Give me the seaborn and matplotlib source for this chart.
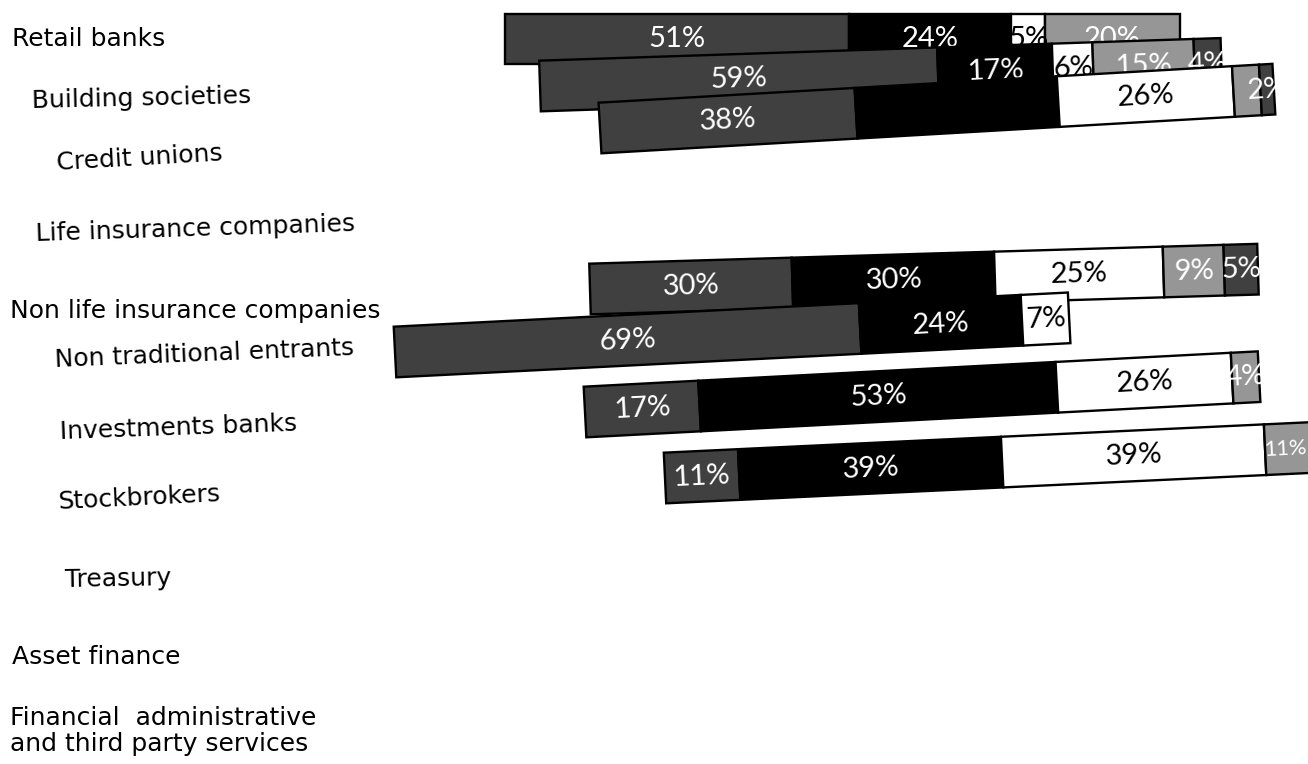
import numpy as np
import pandas as pd
import matplotlib
matplotlib.use("Agg")
import matplotlib.pyplot as plt
from matplotlib.transforms import Affine2D
import seaborn as sns

# ---------------- data ----------------
categories = [
    "Retail banks", "Building societies", "Credit unions",
    "Life insurance companies", "Non life insurance companies",
    "Non traditional entrants", "Investments banks", "Stockbrokers",
    "Treasury", "Asset finance",
    "Financial  administrative\nand third party services",
]
bar_categories = [
    "Retail banks", "Building societies", "Credit unions",
    "Non life insurance companies", "Non traditional entrants",
    "Investments banks", "Stockbrokers",
]
seg1 = [51, 59, 38, 30, 69, 17, 11]
seg2 = [24, 17, 30, 30, 24, 53, 39]
seg3 = [5, 6, 26, 25, 7, 26, 39]
seg4 = [20, 15, 4, 9, 0, 4, 11]
seg5 = [0, 4, 2, 5, 0, 0, 0]
segments = [seg1, seg2, seg3, seg4, seg5]
# segment labels that are not printed in the reference (row, segment)
unlabelled = [(2, 1), (2, 3)]

# ---------------- style / layout ----------------
seg_colors = ["#404040", "#000000", "#ffffff", "#969696", "#404040"]
label_colors = ["white", "white", "black", "white", "white"]
W, H = 1308, 764
PX = 6.75            # pixels per percentage point
ROW0, ROWSTEP = 40, 68.5   # pixel centre of first category row, row step
BAR_H = 0.74
LABEL_FS = 21
bar_start_px = [505, 540, 600, 590, 395, 585, 665]
bar_row_px = [39, 86, 128, 289, 352, 412, 478]
bar_tilt = [0.0, 1.9, 3.3, 1.7, 2.9, 3.0, 2.7]
label_layout = [  # (x px, y px, rotation)
    (12, 39, 0), (32, 101, 1.3), (57, 163, 3.3), (36, 234, 1.8),
    (10, 311, 0), (55, 360, 2.3), (60, 432, 2.0), (58, 502, 2.8),
    (65, 580, 1.0), (12, 657, 0), (10, 731, 0),
]

sns.set_theme(style="white")
plt.rcParams["font.family"] = ["DejaVu Sans"]

fig = plt.figure(figsize=(W / 100, H / 100), dpi=100)
ax = fig.add_axes([0, 0, 1, 1])

row_pos = [(p - ROW0) / ROWSTEP for p in bar_row_px]
starts = [s / PX for s in bar_start_px]

records = []  # (patch, row, seg, left, value)
cum = np.zeros(len(bar_categories))
for k, seg in enumerate(segments):
    vals = np.array(seg, dtype=float)
    df = pd.DataFrame({
        "category": bar_categories,
        "value": vals,
        "left": np.array(starts) + cum,
        "row": np.arange(len(bar_categories)),
    })
    df = df[df["value"] > 0]
    n0 = len(ax.patches)
    sns.barplot(data=df, x="value", y="category", order=categories,
                orient="h", color=seg_colors[k], saturation=1,
                width=BAR_H, errorbar=None, edgecolor="black",
                linewidth=1.7, left=df["left"].to_numpy(), ax=ax)
    new = ax.patches[n0:]
    for p, (_, r) in zip(new, df.iterrows()):
        records.append((p, int(r["row"]), k, r["left"], r["value"]))
    cum += vals

xmax = W / PX
ax.set_xlim(0, xmax)
ax.set_ylim((H - ROW0) / ROWSTEP, -ROW0 / ROWSTEP)
ax.set_axis_off()

rots = []
for r in range(len(bar_categories)):
    cx, cy = ax.transData.transform((starts[r], row_pos[r]))
    rots.append(ax.transData + Affine2D().rotate_deg_around(cx, cy, bar_tilt[r]))

for p, r, k, left, val in records:
    p.set_y(row_pos[r] - BAR_H / 2)
    p.set_transform(rots[r])
    p.set_zorder(2 + 2 * r)
    if (r, k) in unlabelled:
        continue
    fs = LABEL_FS
    if left + val > xmax:      # segment runs off the page: fit label in the visible part
        vis_px = (xmax - left) * PX - 5
        fs = min(LABEL_FS, vis_px / 1.7 * 72 / 100)
        tx = (left + xmax) / 2 - 0.2
    else:
        tx = left + val / 2
    ax.text(tx, row_pos[r], f"{int(val)}%", transform=rots[r],
            rotation=bar_tilt[r], rotation_mode="anchor", ha="center",
            va="center", color=label_colors[k], fontsize=fs,
            family=["Lato", "DejaVu Sans"], zorder=2.5 + 2 * r)

for name, (x, y, rot) in zip(categories, label_layout):
    fig.text(x / W, 1 - y / H, name, ha="left", va="center", rotation=rot,
             rotation_mode="anchor", fontsize=18, color="black",
             family=["DejaVu Sans"], linespacing=1.15)

fig.savefig("out.png", dpi=100)
